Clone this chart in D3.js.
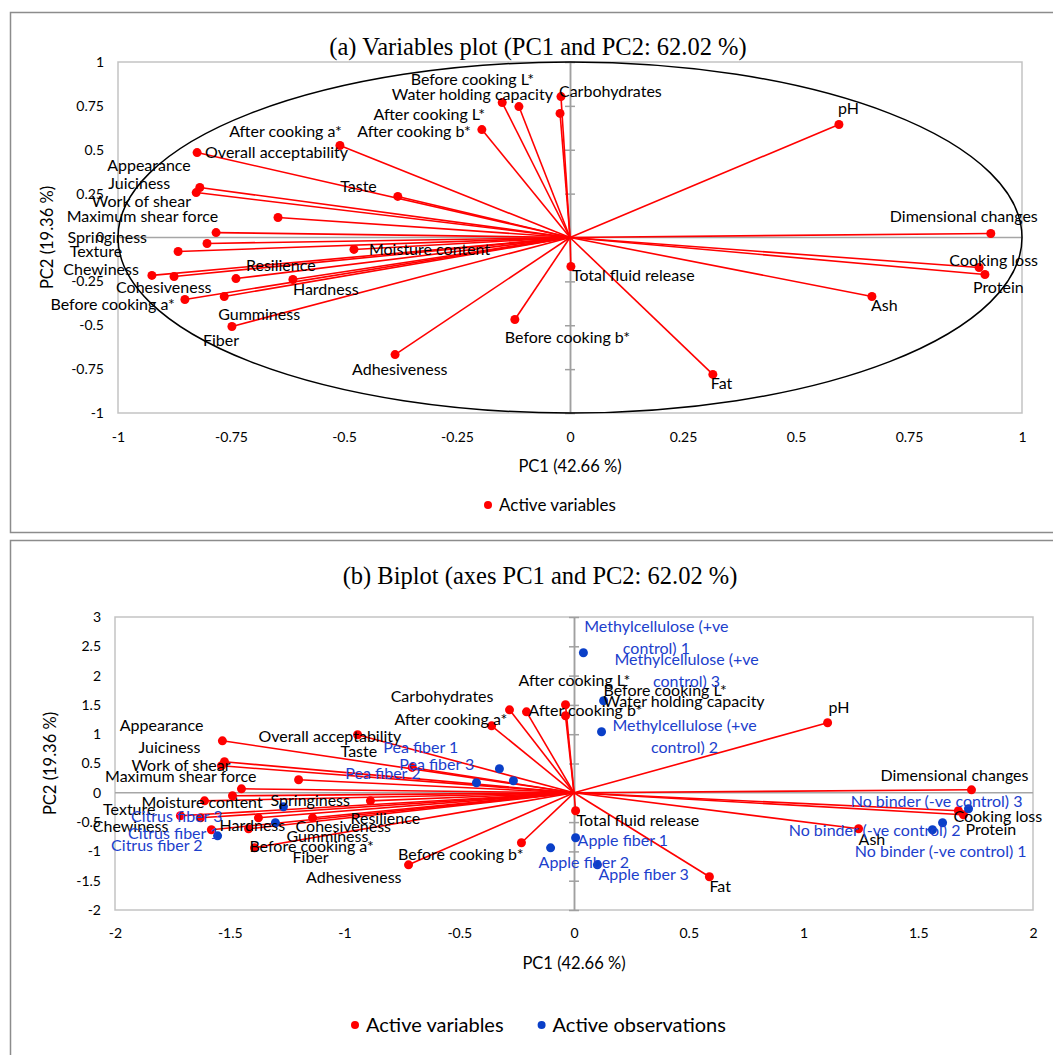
<!DOCTYPE html>
<html>
<head>
<meta charset="utf-8">
<script src="https://cdn.jsdelivr.net/npm/d3@7"></script>
<style>
body { margin: 0; background: #fff; }
svg { display: block; }
.lbl { font-family: Lato, "Noto Sans", sans-serif; font-size: 16px; }
.tick text { font-family: Lato, "Noto Sans", sans-serif; font-size: 14px; fill: #000; }
.axtitle { font-family: Lato, "Noto Sans", sans-serif; font-size: 16.5px; }
.title { font-family: "Liberation Serif", "Times New Roman", serif; font-size: 24.5px; }
</style>
</head>
<body>
<script>
// variable names (same order in both plots)
var varNames = ["Before cooking L*", "Water holding capacity", "Carbohydrates", "pH",
    "After cooking L*", "After cooking b*", "After cooking a*", "Overall acceptability",
    "Appearance", "Juiciness", "Taste", "Work of shear", "Maximum shear force",
    "Dimensional changes", "Springiness", "Moisture content", "Texture", "Chewiness",
    "Resilience", "Cooking loss", "Protein", "Total fluid release", "Cohesiveness",
    "Hardness", "Ash", "Before cooking a*", "Gumminess", "Before cooking b*", "Fiber",
    "Adhesiveness", "Fat"];

// (a) correlations with PC1 / PC2
var corPC1 = [-0.022, -0.113, -0.020, 0.595, -0.150, -0.195, -0.509, -0.825, -0.819, -0.827,
    -0.381, -0.646, -0.783, 0.931, -0.803, -0.478, -0.867, -0.925, -0.739, 0.905, 0.918,
    0.002, -0.876, -0.613, 0.668, -0.852, -0.765, -0.122, -0.748, -0.387, 0.316];
var corPC2 = [0.707, 0.746, 0.803, 0.644, 0.769, 0.615, 0.524, 0.484, 0.285, 0.256,
    0.234, 0.114, 0.028, 0.023, -0.034, -0.068, -0.080, -0.216, -0.234, -0.171, -0.211,
    -0.165, -0.222, -0.239, -0.336, -0.353, -0.336, -0.467, -0.507, -0.667, -0.780];

// (b) biplot variable coordinates
var bipPC1 = [-0.037, -0.207, -0.037, 1.105, -0.281, -0.359, -0.943, -1.532, -1.523, -1.536,
    -0.705, -1.200, -1.449, 1.732, -1.488, -0.887, -1.610, -1.715, -1.375, 1.675, 1.697,
    0.007, -1.627, -1.139, 1.240, -1.580, -1.418, -0.229, -1.392, -0.721, 0.590];
var bipPC2 = [1.314, 1.382, 1.502, 1.195, 1.416, 1.143, 0.990, 0.887, 0.529, 0.461,
    0.433, 0.222, 0.068, 0.051, -0.051, -0.137, -0.137, -0.392, -0.427, -0.307, -0.375,
    -0.307, -0.427, -0.427, -0.614, -0.631, -0.614, -0.853, -0.939, -1.229, -1.433];

// (b) observations
var obsNames = ["Methylcellulose (+ve control) 1", "Methylcellulose (+ve control) 3",
    "Methylcellulose (+ve control) 2", "Pea fiber 1", "Pea fiber 3", "Pea fiber 2",
    "Citrus fiber 3", "Citrus fiber 1", "Citrus fiber 2", "Apple fiber 1", "Apple fiber 2",
    "Apple fiber 3", "No binder (-ve control) 3", "No binder (-ve control) 2",
    "No binder (-ve control) 1"];
var obsPC1 = [0.041, 0.129, 0.120, -0.325, -0.264, -0.425, -1.266, -1.301, -1.553,
    0.007, -0.102, 0.102, 1.719, 1.562, 1.606];
var obsPC2 = [2.389, 1.570, 1.041, 0.410, 0.205, 0.171, -0.239, -0.512, -0.734,
    -0.768, -0.939, -1.229, -0.273, -0.631, -0.512];

// ticks
var ticksA = [-1, -0.75, -0.5, -0.25, 0, 0.25, 0.5, 0.75, 1];
var ticksBx = [-2, -1.5, -1, -0.5, 0, 0.5, 1, 1.5, 2];
var ticksBy = [-2, -1.5, -1, -0.5, 0, 0.5, 1, 1.5, 2, 2.5, 3];

// label placement: [dx, dy, anchor] relative to the point, in px
var labelPosA = {
    "Before cooking L*": [-26, -28, "end"], "Water holding capacity": [34, -7, "end"],
    "Carbohydrates": [-2, 0, "start"], "pH": [-1, -10, "start"],
    "After cooking L*": [-17, 17, "end"], "After cooking b*": [-11, 7, "end"],
    "After cooking a*": [2, -9, "end"], "Overall acceptability": [8, 5, "start"],
    "Appearance": [-9, -16, "end"], "Juiciness": [-26, -4, "end"], "Taste": [-21, -4, "end"],
    "Work of shear": [-87, -10, "end"], "Maximum shear force": [2, -11, "end"],
    "Dimensional changes": [47, -11, "end"], "Springiness": [-60, 0, "end"],
    "Moisture content": [15, 6, "start"], "Texture": [-56, 5, "end"],
    "Chewiness": [-13, 0, "end"], "Resilience": [10, -8, "start"],
    "Cooking loss": [59, -2, "end"], "Protein": [-12, 18, "start"],
    "Total fluid release": [1, 15, "start"], "Cohesiveness": [-58, 17, "start"],
    "Hardness": [0, 16, "start"], "Ash": [-1, 15, "start"],
    "Before cooking a*": [-10, 11, "end"], "Gumminess": [-6, 24, "start"],
    "Before cooking b*": [-10, 24, "start"], "Fiber": [-29, 20, "start"],
    "Adhesiveness": [-43, 20, "start"], "Fat": [-2, 15, "start"]
};
var labelPosB = {
    "After cooking a*": [37, -10, "start"], "Overall acceptability": [36, 1, "start"],
    "Appearance": [-21, -31, "end"], "Juiciness": [-21, -13, "end"], "Taste": [-35, -10, "end"],
    "Work of shear": [-68, -9, "end"], "Maximum shear force": [15, -7, "end"],
    "Springiness": [38, 10, "start"], "Texture": [-49, 14, "end"],
    "Moisture content": [-229, 7, "start"], "Chewiness": [-12, 16, "end"],
    "Cohesiveness": [95, 14, "start"], "Resilience": [92, 6, "start"],
    "Hardness": [-93, 13, "start"], "Before cooking a*": [38, 22, "start"],
    "Gumminess": [38, 13, "start"], "Fiber": [38, 15, "start"],
    "Adhesiveness": [-7, 18, "end"], "Before cooking b*": [2, 17, "end"],
    "Total fluid release": [1, 15, "start"], "Fat": [0, 15, "start"], "Ash": [0, 16, "start"],
    "Protein": [2, 20, "start"], "Cooking loss": [-5, 11, "start"],
    "Dimensional changes": [57, -9, "end"], "pH": [1, -10, "start"],
    "Carbohydrates": [-72, -3, "end"], "Before cooking L*": [38, -20, "start"],
    "Water holding capacity": [77, -5, "start"], "After cooking L*": [9, -24, "start"],
    "After cooking b*": [37, -10, "start"]
};
var labelPosObs = {
    "Methylcellulose (+ve control) 1": [73, -21, "middle"],
    "Methylcellulose (+ve control) 3": [83, -36, "middle"],
    "Methylcellulose (+ve control) 2": [83, -1, "middle"],
    "Pea fiber 1": [-41, -16, "end"], "Pea fiber 3": [-39, -11, "end"],
    "Pea fiber 2": [-56, -4, "end"], "Citrus fiber 3": [-61, 15, "end"],
    "Citrus fiber 1": [-56, 16, "end"], "Citrus fiber 2": [-15, 15, "end"],
    "Apple fiber 1": [2, 8, "start"], "Apple fiber 2": [-12, 20, "start"],
    "Apple fiber 3": [1, 15, "start"], "No binder (-ve control) 3": [54, -2, "end"],
    "No binder (-ve control) 2": [28, 6, "end"], "No binder (-ve control) 1": [84, 34, "end"]
};

var RED = "#ff0000", BLUE = "#0a3fc8", BLUE_TXT = "#1c40cc";

var svg = d3.select("body").append("svg")
    .attr("width", 1053)
    .attr("height", 1055);

// outer panel frames
svg.append("rect").attr("x", 10.5).attr("y", 12.5).attr("width", 1100).attr("height", 520)
    .attr("fill", "none").attr("stroke", "#8c8c8c").attr("stroke-width", 1.5);
svg.append("rect").attr("x", 10.5).attr("y", 540.5).attr("width", 1100).attr("height", 540)
    .attr("fill", "none").attr("stroke", "#8c8c8c").attr("stroke-width", 1.5);

function drawPanel(cfg) {
    var g = svg.append("g");
    var x = d3.scaleLinear().domain(cfg.xDomain).range([cfg.left, cfg.right]);
    var y = d3.scaleLinear().domain(cfg.yDomain).range([cfg.bottom, cfg.top]);

    // plot area frame
    g.append("rect")
        .attr("x", cfg.left).attr("y", cfg.top)
        .attr("width", cfg.right - cfg.left).attr("height", cfg.bottom - cfg.top)
        .attr("fill", "none").attr("stroke", "#c3c3c3").attr("stroke-width", 1.5);

    // tick labels
    g.append("g")
        .attr("transform", "translate(0," + cfg.bottom + ")")
        .call(d3.axisBottom(x).tickValues(cfg.xTicks).tickSize(0).tickPadding(cfg.xPad).tickFormat(String))
        .call(function (a) { a.select(".domain").remove(); });
    g.append("g")
        .attr("transform", "translate(" + cfg.left + ",0)")
        .call(d3.axisLeft(y).tickValues(cfg.yTicks).tickSize(0).tickPadding(14).tickFormat(String))
        .call(function (a) { a.select(".domain").remove(); });

    // axes through the origin
    g.append("line")
        .attr("x1", cfg.left).attr("x2", cfg.right)
        .attr("y1", y(0)).attr("y2", y(0))
        .attr("stroke", "#a6a6a6").attr("stroke-width", 1.5);
    [d3.axisLeft(y), d3.axisRight(y)].forEach(function (ax) {
        g.append("g")
            .attr("transform", "translate(" + x(0) + ",0)")
            .call(ax.tickValues(cfg.yTicks).tickSize(5).tickSizeOuter(0).tickFormat(""))
            .call(function (a) {
                a.selectAll("path, line").attr("stroke", "#a0a0a0").attr("stroke-width", 1.5);
            });
    });

    if (cfg.circle) {
        g.append("ellipse")
            .attr("cx", x(0)).attr("cy", y(0))
            .attr("rx", x(1) - x(0)).attr("ry", y(0) - y(1))
            .attr("fill", "none").attr("stroke", "#000").attr("stroke-width", 1.5);
    }

    var vars = varNames.map(function (n, i) {
        return { name: n, px: cfg.vx[i], py: cfg.vy[i] };
    });

    // vectors
    g.selectAll("line.vec").data(vars).enter().append("line")
        .attr("class", "vec")
        .attr("x1", x(0)).attr("y1", y(0))
        .attr("x2", function (d) { return x(d.px); })
        .attr("y2", function (d) { return y(d.py); })
        .attr("stroke", RED).attr("stroke-width", 1.6);

    g.selectAll("circle.var").data(vars).enter().append("circle")
        .attr("class", "var")
        .attr("cx", function (d) { return x(d.px); })
        .attr("cy", function (d) { return y(d.py); })
        .attr("r", 4.5).attr("fill", RED);

    var obs = [];
    if (cfg.obs) {
        obs = obsNames.map(function (n, i) {
            return { name: n, px: obsPC1[i], py: obsPC2[i] };
        });
        g.selectAll("circle.obs").data(obs).enter().append("circle")
            .attr("class", "obs")
            .attr("cx", function (d) { return x(d.px); })
            .attr("cy", function (d) { return y(d.py); })
            .attr("r", 4.5).attr("fill", BLUE);
    }

    // variable labels
    g.selectAll("text.vl").data(vars).enter().append("text")
        .attr("class", "lbl vl")
        .attr("x", function (d) { return x(d.px) + cfg.lpos[d.name][0]; })
        .attr("y", function (d) { return y(d.py) + cfg.lpos[d.name][1]; })
        .attr("text-anchor", function (d) { return cfg.lpos[d.name][2]; })
        .attr("fill", "#000")
        .text(function (d) { return d.name; });

    // observation labels (long names wrap after "(+ve")
    g.selectAll("text.ol").data(obs).enter().append("text")
        .attr("class", "lbl ol")
        .attr("text-anchor", function (d) { return labelPosObs[d.name][2]; })
        .attr("fill", BLUE_TXT)
        .each(function (d) {
            var p = labelPosObs[d.name];
            var lines = d.name.indexOf("Methylcellulose") === 0
                ? d.name.replace("(+ve ", "(+ve\n").split("\n") : [d.name];
            var t = d3.select(this);
            lines.forEach(function (s, k) {
                t.append("tspan")
                    .attr("x", x(d.px) + p[0])
                    .attr("y", y(d.py) + p[1] + k * 22)
                    .text(s);
            });
        });

    // titles
    svg.append("text").attr("class", "title")
        .attr("x", cfg.titleX).attr("y", cfg.titleY)
        .attr("text-anchor", "middle").text(cfg.title);
    svg.append("text").attr("class", "axtitle")
        .attr("x", x(0)).attr("y", cfg.xTitleY)
        .attr("text-anchor", "middle").text("PC1 (42.66 %)");
    svg.append("text").attr("class", "axtitle")
        .attr("transform", "translate(" + cfg.yTitleX + "," + ((cfg.top + cfg.bottom) / 2) + ") rotate(-90)")
        .attr("text-anchor", "middle").text("PC2 (19.36 %)");

    // legend
    var lg = svg.append("g").attr("transform", "translate(" + cfg.legendX + "," + cfg.legendY + ")");
    var items = cfg.obs ? [["Active variables", RED], ["Active observations", BLUE]] : [["Active variables", RED]];
    var off = 0;
    items.forEach(function (it) {
        lg.append("circle").attr("cx", off).attr("cy", 0).attr("r", 4).attr("fill", it[1]);
        var t = lg.append("text").attr("class", "axtitle")
            .style("font-size", cfg.legendSize + "px")
            .attr("x", off + 11).attr("y", cfg.legendSize * 0.36).text(it[0]);
        off += 11 + t.node().getComputedTextLength() + 38;
    });
}

drawPanel({
    xDomain: [-1, 1], yDomain: [-1, 1],
    left: 118, right: 1022, top: 62, bottom: 413,
    xTicks: ticksA, yTicks: ticksA, xPad: 19,
    vx: corPC1, vy: corPC2, lpos: labelPosA,
    circle: true, obs: false,
    title: "(a) Variables plot (PC1 and PC2: 62.02 %)", titleX: 538, titleY: 55,
    xTitleY: 472, yTitleX: 53,
    legendX: 488, legendY: 505, legendSize: 17
});

drawPanel({
    xDomain: [-2, 2], yDomain: [-2, 3],
    left: 115, right: 1033, top: 617, bottom: 910,
    xTicks: ticksBx, yTicks: ticksBy, xPad: 18,
    vx: bipPC1, vy: bipPC2, lpos: labelPosB,
    circle: false, obs: true,
    title: "(b) Biplot (axes PC1 and PC2: 62.02 %)", titleX: 540, titleY: 584,
    xTitleY: 969, yTitleX: 56,
    legendX: 355, legendY: 1025, legendSize: 20
});
</script>
</body>
</html>
